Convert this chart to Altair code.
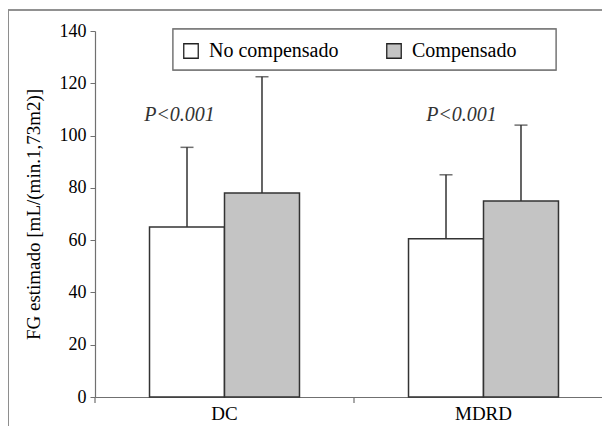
import altair as alt
import pandas as pd

categories = ["DC", "MDRD"]
groups = ["No compensado", "Compensado"]
no_comp_mean = [65, 60.5]
comp_mean = [78, 75]
no_comp_upper = [95.5, 85]
comp_upper = [122.5, 104]
p_labels = ["P<0.001", "P<0.001"]
p_value_y = [108, 108]
y_ticks = [0, 20, 40, 60, 80, 100, 120, 140]

rows = []
for i, c in enumerate(categories):
    rows.append({"cat": c, "grp": groups[0], "mean": no_comp_mean[i], "upper": no_comp_upper[i]})
    rows.append({"cat": c, "grp": groups[1], "mean": comp_mean[i], "upper": comp_upper[i]})
df = pd.DataFrame(rows)
pdf = pd.DataFrame({"cat": categories, "label": p_labels, "y": p_value_y})
tdf = pd.DataFrame({"cat": categories})

W, H = 507, 366
FONT = "Liberation Serif"

xscale = alt.Scale(domain=categories, range=[0, 518], paddingInner=0, paddingOuter=0)
yscale = alt.Scale(domain=[0, 140], nice=False)
offscale = alt.Scale(domain=groups, paddingInner=0, paddingOuter=0.727)

x_enc = alt.X("cat:N", scale=xscale, sort=categories,
              axis=alt.Axis(title=None, ticks=False, labelAngle=0, labelFont=FONT,
                            labelFontSize=19, labelColor="black", labelPadding=7,
                            domainColor="#707070", domainWidth=1.2))
y_enc = alt.Y("mean:Q", scale=yscale,
              axis=alt.Axis(title="FG estimado [mL/(min.1,73m2)]", values=y_ticks,
                            grid=False, tickSize=5, tickColor="#707070", domainColor="#707070",
                            domainWidth=1.2, labelFont=FONT, labelFontSize=18,
                            labelColor="black", labelPadding=4, titleFont=FONT,
                            titleFontSize=19, titleFontWeight="normal", titleColor="black",
                            titlePadding=16))
off_enc = alt.XOffset("grp:N", scale=offscale, sort=groups)

bars = alt.Chart(df).mark_bar(stroke="#333", strokeWidth=1.5).encode(
    x=x_enc,
    xOffset=off_enc,
    y=y_enc,
    fill=alt.Fill("grp:N", scale=alt.Scale(domain=groups, range=["#ffffff", "#c4c4c4"]),
                  sort=groups,
                  legend=alt.Legend(title=None, orient="none", legendX=86, legendY=10,
                                    direction="horizontal", symbolType="square",
                                    symbolSize=210, symbolStrokeColor="#222",
                                    symbolStrokeWidth=1.3, labelFont=FONT,
                                    labelFontSize=20, labelColor="black", labelOffset=8,
                                    columnPadding=45, padding=0)),
)

err = alt.Chart(df).mark_rule(color="#333", strokeWidth=1.5).encode(
    x=alt.X("cat:N", scale=xscale, sort=categories),
    xOffset=off_enc,
    y=alt.Y("mean:Q", scale=yscale),
    y2="upper:Q",
)
caps = alt.Chart(df).mark_tick(color="#333", thickness=1.5, size=13).encode(
    x=alt.X("cat:N", scale=xscale, sort=categories),
    xOffset=off_enc,
    y=alt.Y("upper:Q", scale=yscale),
)

p1 = alt.Chart(pdf.iloc[[0]]).mark_text(font=FONT, fontSize=20, fontStyle="italic",
                                        color="#333", dx=-45, baseline="middle").encode(
    x=alt.X("cat:N", scale=xscale, sort=categories),
    y=alt.Y("y:Q", scale=yscale),
    text="label:N",
)
p2 = alt.Chart(pdf.iloc[[1]]).mark_text(font=FONT, fontSize=20, fontStyle="italic",
                                        color="#333", dx=-22, baseline="middle").encode(
    x=alt.X("cat:N", scale=xscale, sort=categories),
    y=alt.Y("y:Q", scale=yscale),
    text="label:N",
)

xticks = alt.Chart(tdf).mark_rule(color="#707070", strokeWidth=1.2).encode(
    x=alt.X("cat:N", scale=xscale, sort=categories, bandPosition=0),
    y=alt.value(H),
    y2=alt.value(H + 6),
)

frame_left = alt.Chart(tdf).mark_rule(color="#8a8a8a", strokeWidth=1.6).encode(
    x=alt.value(-87), y=alt.value(-21), y2=alt.value(H + 60))
frame_top = alt.Chart(tdf).mark_rule(color="#8a8a8a", strokeWidth=1.6).encode(
    x=alt.value(-87), x2=alt.value(W + 20), y=alt.value(-21))
legend_box = alt.Chart(tdf).mark_rect(fill="white", stroke="#777", strokeWidth=1.3).encode(
    x=alt.value(78), x2=alt.value(461), y=alt.value(-2), y2=alt.value(39))

chart = alt.layer(
    frame_left, frame_top, legend_box, bars, err, caps, p1, p2, xticks
).properties(
    width=W, height=H,
    autosize=alt.AutoSizeParams(type="none"),
    padding={"left": 87, "top": 23, "right": 0, "bottom": 29},
).configure_view(stroke=None)

chart.save("out.html", embed_options={"renderer": "svg", "actions": False})
